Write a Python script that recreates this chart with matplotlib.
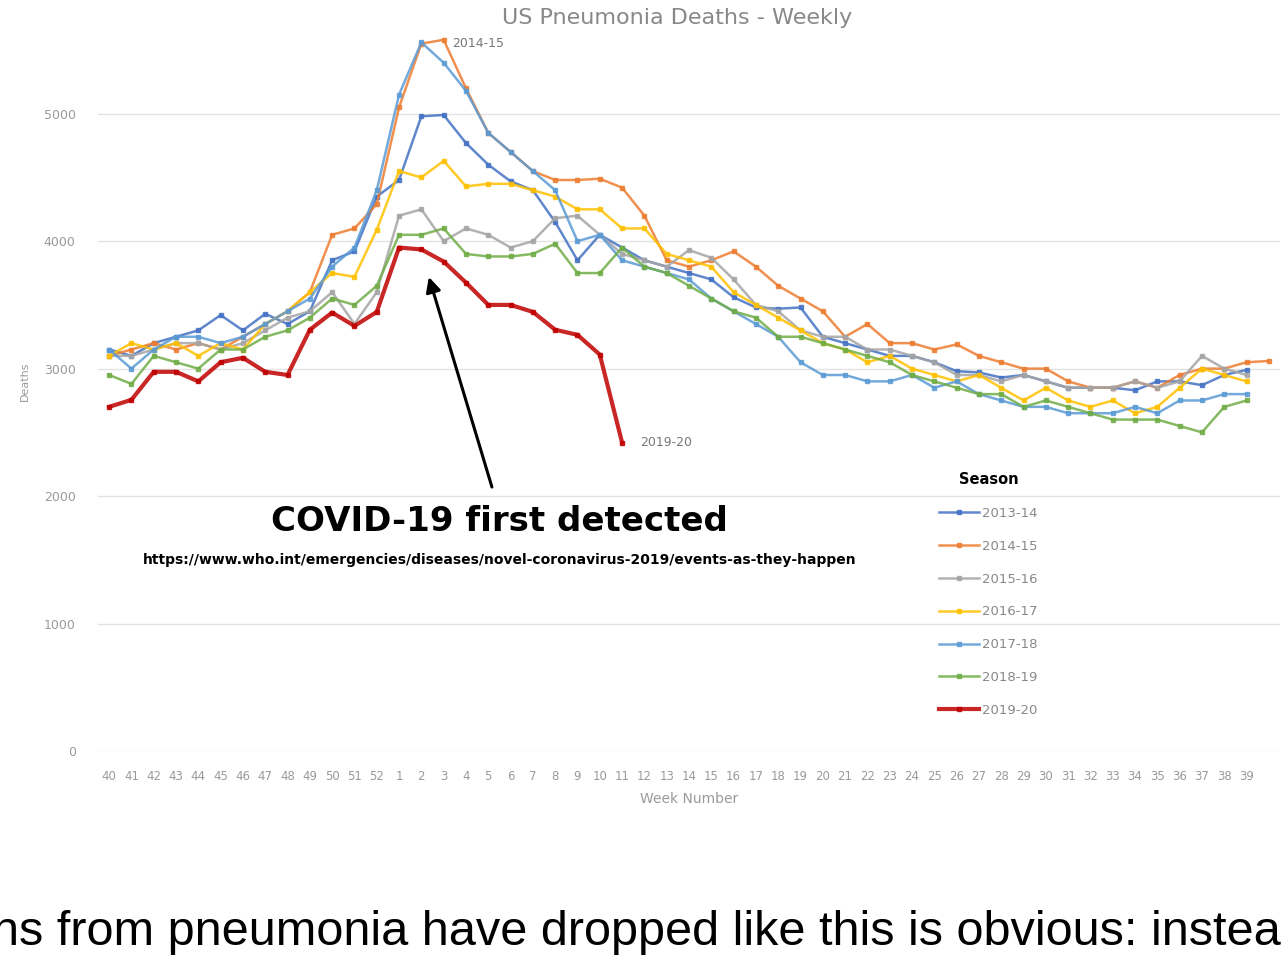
import matplotlib.pyplot as plt
import numpy as np

# week labels, flu season runs week 40 through week 39
weeks = [str(w) for w in range(40, 53)] + [str(w) for w in range(1, 40)]

s2013_14 = [3150, 3100, 3200, 3250, 3300, 3420, 3300, 3430, 3350, 3450, 3850, 3920, 4350,
            4480, 4980, 4990, 4770, 4600, 4470, 4400, 4150, 3850, 4050, 3950, 3850, 3800,
            3750, 3700, 3560, 3480, 3470, 3480, 3250, 3200, 3150, 3100, 3100, 3050, 2980,
            2970, 2930, 2950, 2900, 2850, 2850, 2850, 2830, 2900, 2900, 2870, 2950, 2990]
s2014_15 = [3100, 3150, 3200, 3150, 3200, 3150, 3250, 3350, 3450, 3600, 4050, 4100, 4290,
            5050, 5550, 5580, 5200, 4850, 4700, 4550, 4480, 4480, 4490, 4420, 4200, 3850,
            3800, 3850, 3920, 3800, 3650, 3550, 3450, 3250, 3350, 3200, 3200, 3150, 3190,
            3100, 3050, 3000, 3000, 2900, 2850, 2850, 2900, 2850, 2950, 3000, 3000, 3050,
            3060]
s2015_16 = [3100, 3100, 3150, 3200, 3200, 3150, 3200, 3300, 3400, 3450, 3600, 3350, 3600,
            4200, 4250, 4000, 4100, 4050, 3950, 4000, 4180, 4200, 4050, 3900, 3850, 3800,
            3930, 3870, 3700, 3500, 3450, 3300, 3250, 3250, 3150, 3150, 3100, 3050, 2950,
            2950, 2900, 2950, 2900, 2850, 2850, 2850, 2900, 2850, 2900, 3100, 3000, 2950]
s2016_17 = [3100, 3200, 3150, 3200, 3100, 3200, 3150, 3350, 3450, 3600, 3750, 3720, 4090,
            4550, 4500, 4630, 4430, 4450, 4450, 4400, 4350, 4250, 4250, 4100, 4100, 3900,
            3850, 3800, 3600, 3500, 3400, 3300, 3200, 3150, 3050, 3100, 3000, 2950, 2900,
            2950, 2850, 2750, 2850, 2750, 2700, 2750, 2650, 2700, 2850, 3000, 2950, 2900]
s2017_18 = [3150, 3000, 3150, 3250, 3250, 3200, 3250, 3350, 3450, 3550, 3800, 3950, 4400,
            5150, 5560, 5400, 5180, 4850, 4700, 4550, 4400, 4000, 4050, 3850, 3800, 3750,
            3700, 3550, 3450, 3350, 3250, 3050, 2950, 2950, 2900, 2900, 2950, 2850, 2900,
            2800, 2750, 2700, 2700, 2650, 2650, 2650, 2700, 2650, 2750, 2750, 2800, 2800]
s2018_19 = [2950, 2880, 3100, 3050, 3000, 3150, 3150, 3250, 3300, 3400, 3550, 3500, 3650,
            4050, 4050, 4100, 3900, 3880, 3880, 3900, 3980, 3750, 3750, 3950, 3800, 3750,
            3650, 3550, 3450, 3400, 3250, 3250, 3200, 3150, 3100, 3050, 2950, 2900, 2850,
            2800, 2800, 2700, 2750, 2700, 2650, 2600, 2600, 2600, 2550, 2500, 2700, 2750]
s2019_20 = [2700, 2755, 2975, 2975, 2900, 3050, 3085, 2975, 2950, 3305, 3440, 3335, 3445,
            3950, 3935, 3840, 3675, 3500, 3500, 3445, 3305, 3265, 3110, 2420]

seasons = ["2013-14", "2014-15", "2015-16", "2016-17", "2017-18", "2018-19", "2019-20"]
series = [s2013_14, s2014_15, s2015_16, s2016_17, s2017_18, s2018_19, s2019_20]
colors = ["#4472C4", "#ED7D31", "#A5A5A5", "#FFC000", "#5B9BD5", "#70AD47", "#C00000"]

fig = plt.figure(figsize=(12.84, 9.65), dpi=100)
ax = fig.add_axes([0.0763, 0.2218, 0.9206, 0.766])

for name, vals, col in zip(seasons, series, colors):
    lw = 3 if name == "2019-20" else 1.8
    ax.plot(range(len(vals)), vals, color=col, lw=lw, marker="s", markersize=3.5,
            label=name, alpha=0.85)

ax.set_xlim(-0.5, 52.5)
ax.set_ylim(0, 5800)
ax.set_yticks([0, 1000, 2000, 3000, 4000, 5000])
ax.tick_params(axis="y", labelsize=9, colors="#9a9a9a", length=0, pad=16)
ax.set_xticks(range(len(weeks)))
ax.set_xticklabels(weeks)
ax.tick_params(axis="x", labelsize=8.5, colors="#9a9a9a", length=0, pad=14)
ax.grid(axis="y", color="#e3e3e3", lw=1)
ax.set_axisbelow(True)
for sp in ax.spines.values():
    sp.set_visible(False)
ax.set_ylabel("Deaths", fontsize=8, color="#9a9a9a", labelpad=10)
ax.set_xlabel("Week Number", fontsize=10, color="#9a9a9a", labelpad=6)

# series labels
ax.text(15.4, 5550, "2014-15", fontsize=9, color="#777777", va="center")
ax.text(23.8, 2420, "2019-20", fontsize=9, color="#777777", va="center")

# annotation
ax.annotate("", xy=(14.3, 3740), xytext=(17.2, 2050),
            arrowprops=dict(arrowstyle="-|>", color="black", lw=2.2, mutation_scale=22))
ax.text(17.5, 1800, "COVID-19 first detected", fontsize=24.5, fontweight="bold",
        ha="center", va="center")
ax.text(17.5, 1500,
        "https://www.who.int/emergencies/diseases/novel-coronavirus-2019/events-as-they-happen",
        fontsize=10, fontweight="bold", ha="center", va="center")

leg = fig.legend(loc="upper left", bbox_to_anchor=(0.722, 0.523), frameon=False,
                 title="Season", fontsize=9.5, labelspacing=1.5, handlelength=3,
                 handletextpad=0.3)
leg.get_title().set_fontweight("bold")
leg.get_title().set_fontsize(10.5)
for t in leg.get_texts():
    t.set_color("#888888")

fig.text(0.527, 0.981, "US Pneumonia Deaths - Weekly", fontsize=16, color="#888888",
         ha="center", va="center")

fig.text(-0.006, 0.021, "ns from pneumonia have dropped like this is obvious: instea",
         fontsize=35, family="Liberation Sans", ha="left", va="baseline")

fig.savefig("out.png", dpi=100)
